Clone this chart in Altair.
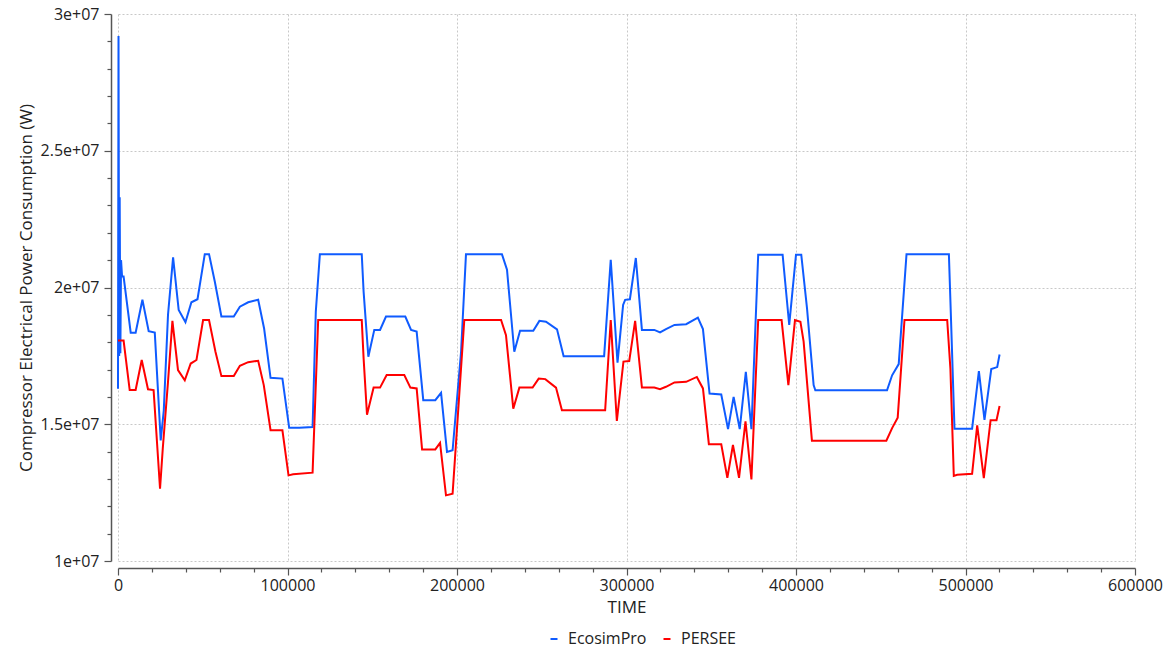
import altair as alt
import pandas as pd

# EcosimPro series (time, W)
eco_t = [0, 300, 700, 1000, 1400, 1800, 2400, 3300, 7500, 10400, 14400, 18100, 21700,
         25200, 27000, 29500, 32500, 35800, 39800, 43300, 46900, 51200, 53700, 57100,
         61000, 68300, 71900, 76800, 82700, 86200, 90000, 97000, 101000, 107000, 114800,
         116700, 119100, 143800, 144900, 147700, 151200, 154600, 158100, 169500, 172900,
         176200, 180100, 187200, 190600, 194100, 197400, 202400, 205300, 226500, 229500,
         233800, 237200, 245000, 248600, 252500, 259000, 262900, 286800, 290700, 294700,
         298000, 299200, 302000, 305500, 309100, 316400, 319800, 323300, 328300, 335200,
         342100, 345100, 349000, 355900, 359900, 363200, 366800, 370400, 373700, 377700,
         392100, 396000, 400000, 403100, 406500, 410400, 411400, 453700, 456700, 460600,
         465200, 490200, 491500, 493500, 503900, 507900, 511200, 515200, 518700, 520100]
eco_v = [1.63e7, 2.92e7, 1.75e7, 2.33e7, 1.76e7, 2.10e7, 2.04e7, 2.04e7, 1.835e7, 1.835e7,
         1.955e7, 1.84e7, 1.835e7, 1.441e7, 1.55e7, 1.90e7, 2.11e7, 1.918e7, 1.873e7,
         1.946e7, 1.957e7, 2.122e7, 2.122e7, 2.022e7, 1.894e7, 1.894e7, 1.93e7, 1.946e7,
         1.955e7, 1.85e7, 1.67e7, 1.667e7, 1.487e7, 1.487e7, 1.49e7, 1.912e7, 2.122e7,
         2.122e7, 1.985e7, 1.747e7, 1.845e7, 1.845e7, 1.894e7, 1.894e7, 1.845e7, 1.839e7,
         1.588e7, 1.588e7, 1.615e7, 1.399e7, 1.405e7, 1.765e7, 2.122e7, 2.122e7, 2.065e7,
         1.765e7, 1.842e7, 1.842e7, 1.878e7, 1.875e7, 1.847e7, 1.749e7, 1.749e7, 2.101e7,
         1.725e7, 1.936e7, 1.955e7, 1.957e7, 2.108e7, 1.845e7, 1.845e7, 1.836e7, 1.848e7,
         1.863e7, 1.866e7, 1.89e7, 1.848e7, 1.612e7, 1.609e7, 1.482e7, 1.60e7, 1.482e7,
         1.692e7, 1.482e7, 2.12e7, 2.12e7, 1.863e7, 2.12e7, 2.12e7, 1.924e7, 1.643e7,
         1.624e7, 1.624e7, 1.679e7, 1.72e7, 2.122e7, 2.122e7, 1.875e7, 1.484e7, 1.484e7,
         1.694e7, 1.516e7, 1.702e7, 1.709e7, 1.755e7]

# PERSEE series (time, W)
per_t = [0, 3300, 6900, 10400, 14000, 17700, 21000, 24800, 26400, 29500, 32100, 35400,
         39400, 42900, 46300, 50200, 53700, 57500, 61000, 68300, 71900, 76800, 82700,
         86000, 90000, 97000, 100600, 103300, 114800, 118100, 143800, 144900, 146900,
         150800, 154600, 158500, 168900, 172500, 176200, 179400, 187200, 190000, 193500,
         197400, 204300, 226000, 228900, 233200, 236800, 244600, 248200, 252100, 258400,
         261900, 287400, 290700, 294300, 298200, 301600, 305100, 309100, 316400, 319800,
         323300, 328300, 335200, 341500, 345100, 348600, 355900, 359500, 362800, 366400,
         370200, 373700, 377700, 391500, 395500, 399400, 402600, 404500, 409400, 453300,
         456700, 460000, 464000, 489200, 491100, 493100, 495100, 503900, 506900, 510800,
         514800, 518300, 520100]
per_v = [1.806e7, 1.806e7, 1.625e7, 1.625e7, 1.735e7, 1.628e7, 1.625e7, 1.264e7, 1.41e7,
         1.655e7, 1.878e7, 1.698e7, 1.661e7, 1.722e7, 1.735e7, 1.881e7, 1.881e7, 1.765e7,
         1.676e7, 1.676e7, 1.714e7, 1.727e7, 1.732e7, 1.643e7, 1.478e7, 1.478e7, 1.313e7,
         1.317e7, 1.323e7, 1.881e7, 1.881e7, 1.741e7, 1.535e7, 1.634e7, 1.634e7, 1.68e7,
         1.68e7, 1.634e7, 1.631e7, 1.408e7, 1.408e7, 1.432e7, 1.24e7, 1.246e7, 1.881e7,
         1.881e7, 1.826e7, 1.557e7, 1.634e7, 1.634e7, 1.667e7, 1.665e7, 1.634e7, 1.551e7,
         1.551e7, 1.881e7, 1.512e7, 1.729e7, 1.731e7, 1.878e7, 1.634e7, 1.634e7, 1.628e7,
         1.637e7, 1.653e7, 1.655e7, 1.673e7, 1.631e7, 1.427e7, 1.427e7, 1.304e7, 1.424e7,
         1.304e7, 1.511e7, 1.298e7, 1.881e7, 1.881e7, 1.643e7, 1.881e7, 1.875e7, 1.802e7,
         1.44e7, 1.44e7, 1.486e7, 1.524e7, 1.881e7, 1.881e7, 1.702e7, 1.311e7, 1.315e7,
         1.319e7, 1.496e7, 1.303e7, 1.515e7, 1.515e7, 1.567e7]

series_names = ["EcosimPro", "PERSEE"]
series_colors = ["#0f5bff", "#ff0000"]

x_ticks = list(range(0, 600001, 20000))
y_ticks = list(range(10000000, 30000001, 1000000))

df = pd.concat([
    pd.DataFrame({"TIME": eco_t, "value": eco_v, "series": "EcosimPro", "i": range(len(eco_t))}),
    pd.DataFrame({"TIME": per_t, "value": per_v, "series": "PERSEE", "i": range(len(per_t))}),
])

FONT = "Open Sans"
AX = "#555555"

x_axis = alt.Axis(
    values=x_ticks, title="TIME", offset=7, labelFlush=False, labelOverlap=False,
    labelExpr="datum.value % 100000 === 0 ? format(datum.value, 'd') : ''",
    tickSize={"condition": {"test": "datum.value % 100000 === 0", "value": 7}, "value": 4},
    gridOpacity={"condition": {"test": "datum.value % 100000 === 0", "value": 1}, "value": 0},
    labelPadding=2, titlePadding=6,
)
y_axis = alt.Axis(
    values=y_ticks, title="Compressor Electrical Power Consumption (W)", offset=7,
    labelFlush=False, labelOverlap=False,
    labelExpr="datum.value % 5000000 === 0 ? format(datum.value / 10000000, '') + 'e+07' : ''",
    tickSize={"condition": {"test": "datum.value % 5000000 === 0", "value": 7}, "value": 4},
    gridOpacity={"condition": {"test": "datum.value % 5000000 === 0", "value": 1}, "value": 0},
    labelPadding=5, titlePadding=5,
)

chart = alt.Chart(df).mark_line(strokeWidth=2, interpolate="linear").encode(
    x=alt.X("TIME:Q", scale=alt.Scale(domain=[0, 600000], nice=False, zero=False), axis=x_axis),
    y=alt.Y("value:Q", scale=alt.Scale(domain=[10000000, 30000000], nice=False, zero=False), axis=y_axis),
    color=alt.Color("series:N", scale=alt.Scale(domain=series_names, range=series_colors),
                    legend=alt.Legend(title=None, orient="none", direction="horizontal",
                                      legendX=428, legendY=617, symbolType="stroke",
                                      symbolSize=49, symbolStrokeWidth=2, labelFontSize=16,
                                      labelFont=FONT, labelColor="#222222", columnPadding=12,
                                      labelOffset=6)),
    order="i:Q",
).properties(
    width=1017, height=547,
    autosize=alt.AutoSizeParams(type="none"),
    padding={"left": 118, "top": 14, "right": 32, "bottom": 90},
).configure_view(stroke=None).configure_axis(
    labelFont=FONT, titleFont=FONT, labelFontSize=16, titleFontSize=17,
    titleFontWeight="normal", labelColor="#222222", titleColor="#222222",
    domainColor=AX, tickColor=AX, gridColor="#c8c8c8", gridDash=[2, 2], gridWidth=1,
    domainWidth=1.5, tickWidth=1.2,
)

chart.save("out.html", embed_options={"renderer": "svg", "actions": False})
